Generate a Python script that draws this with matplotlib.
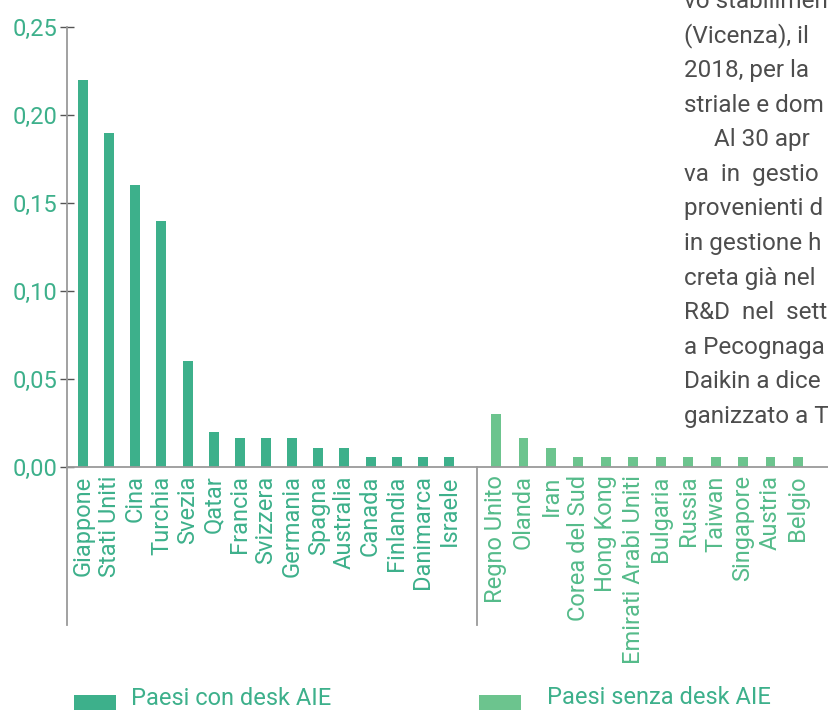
import matplotlib
matplotlib.use("Agg")
import matplotlib.pyplot as plt
from matplotlib.lines import Line2D
from matplotlib.patches import Rectangle
from matplotlib.ticker import FuncFormatter

plt.rcParams["font.family"] = ["Roboto", "DejaVu Sans"]

# ---- data ----
paesi_con = ["Giappone", "Stati Uniti", "Cina", "Turchia", "Svezia", "Qatar",
             "Francia", "Svizzera", "Germania", "Spagna", "Australia",
             "Canada", "Finlandia", "Danimarca", "Israele"]
valori_con = [0.22, 0.19, 0.16, 0.14, 0.06, 0.02, 0.0165, 0.0165, 0.0165,
              0.011, 0.011, 0.0055, 0.0055, 0.0055, 0.0055]

paesi_senza = ["Regno Unito", "Olanda", "Iran", "Corea del Sud", "Hong Kong",
               "Emirati Arabi Uniti", "Bulgaria", "Russia", "Taiwan",
               "Singapore", "Austria", "Belgio"]
valori_senza = [0.03, 0.0165, 0.011, 0.0055, 0.0055, 0.0055, 0.0055, 0.0055,
                0.0055, 0.0055, 0.0055, 0.0055]

y_ticks = [0.0, 0.05, 0.10, 0.15, 0.20, 0.25]
legend_labels = ["Paesi con desk AIE", "Paesi senza desk AIE"]

testo_righe = ["vo stabilimen", "(Vicenza), il", "2018, per la", "striale e dom",
               "     Al 30 apr", "va  in  gestio", "provenienti d", "in gestione h",
               "creta già nel", "R&D  nel  sett", "a Pecognaga", "Daikin a dice",
               "ganizzato a T"]

# ---- style ----
C_CON = "#3db08b"
C_SENZA = "#6cc48e"
C_LAB_SENZA = "#55bb8a"
C_AXIS = "#9a9a9a"
C_TICK = "#555555"
C_TEXT = "#4d4d4d"
FS = 17

W, H = 829, 710
fig = plt.figure(figsize=(W / 100, H / 100), dpi=100)

def fx(px):
    return px / W

def fy(py):
    return 1 - py / H

y_top, y_zero = 27, 467
ax1 = fig.add_axes([fx(67), fy(y_zero), fx(477 - 67), (y_zero - y_top) / H])
ax2 = fig.add_axes([fx(477), fy(y_zero), fx(W - 477), (y_zero - y_top) / H])

pos1 = list(range(len(paesi_con)))
pos2 = list(range(len(paesi_senza)))
b1 = ax1.bar(pos1, valori_con, width=0.38, color=C_CON)
b2 = ax2.bar(pos2, valori_senza, width=0.36, color=C_SENZA)

ax1.set_xlim(-0.612, 15.07)
ax2.set_xlim(-0.692, 12.13)
for ax in (ax1, ax2):
    ax.set_ylim(0, 0.25)
    for s in ("top", "right"):
        ax.spines[s].set_visible(False)
    ax.spines["bottom"].set_color(C_AXIS)
    ax.spines["bottom"].set_linewidth(1.3)
ax2.spines["left"].set_visible(False)
ax1.spines["left"].set_color(C_AXIS)
ax1.spines["left"].set_linewidth(1.3)

ax1.set_yticks(y_ticks)
ax1.yaxis.set_major_formatter(FuncFormatter(lambda v, p: f"{v:.2f}".replace(".", ",")))
ax1.tick_params(axis="y", direction="inout", length=10, width=1, color=C_TICK,
                labelcolor=C_CON, labelsize=FS, pad=2)
ax2.set_yticks([])

ax1.set_xticks(pos1, paesi_con, rotation=90, ha="center", va="top")
ax2.set_xticks(pos2, paesi_senza, rotation=90, ha="center", va="top")
ax1.tick_params(axis="x", length=0, pad=6, labelsize=FS, labelcolor=C_CON)
ax2.tick_params(axis="x", length=0, pad=6, labelsize=FS, labelcolor=C_LAB_SENZA)

# axis extensions below the baseline
for xp in (67, 477):
    fig.add_artist(Line2D([fx(xp), fx(xp)], [fy(y_zero), fy(625)],
                          color=C_AXIS, lw=1.3))

# legend (manual, squares run off the bottom edge as in the reference)
legend_items = [(74, 131, 705, C_CON, legend_labels[0]),
                (479, 547, 704, C_SENZA, legend_labels[1])]
for sx, tx, base, col, lab in legend_items:
    fig.add_artist(Rectangle((fx(sx), fy(714)), fx(42), 19 / H,
                             transform=fig.transFigure, color=col, lw=0))
    fig.text(fx(tx), fy(base), lab, color=C_CON, fontsize=FS,
             ha="left", va="baseline")

# page text on the right
for i, riga in enumerate(testo_righe):
    fig.text(fx(684), fy(7.8 + 34.6 * i), riga, color=C_TEXT, fontsize=17.5,
             ha="left", va="baseline")

fig.savefig("out.png", dpi=100)
